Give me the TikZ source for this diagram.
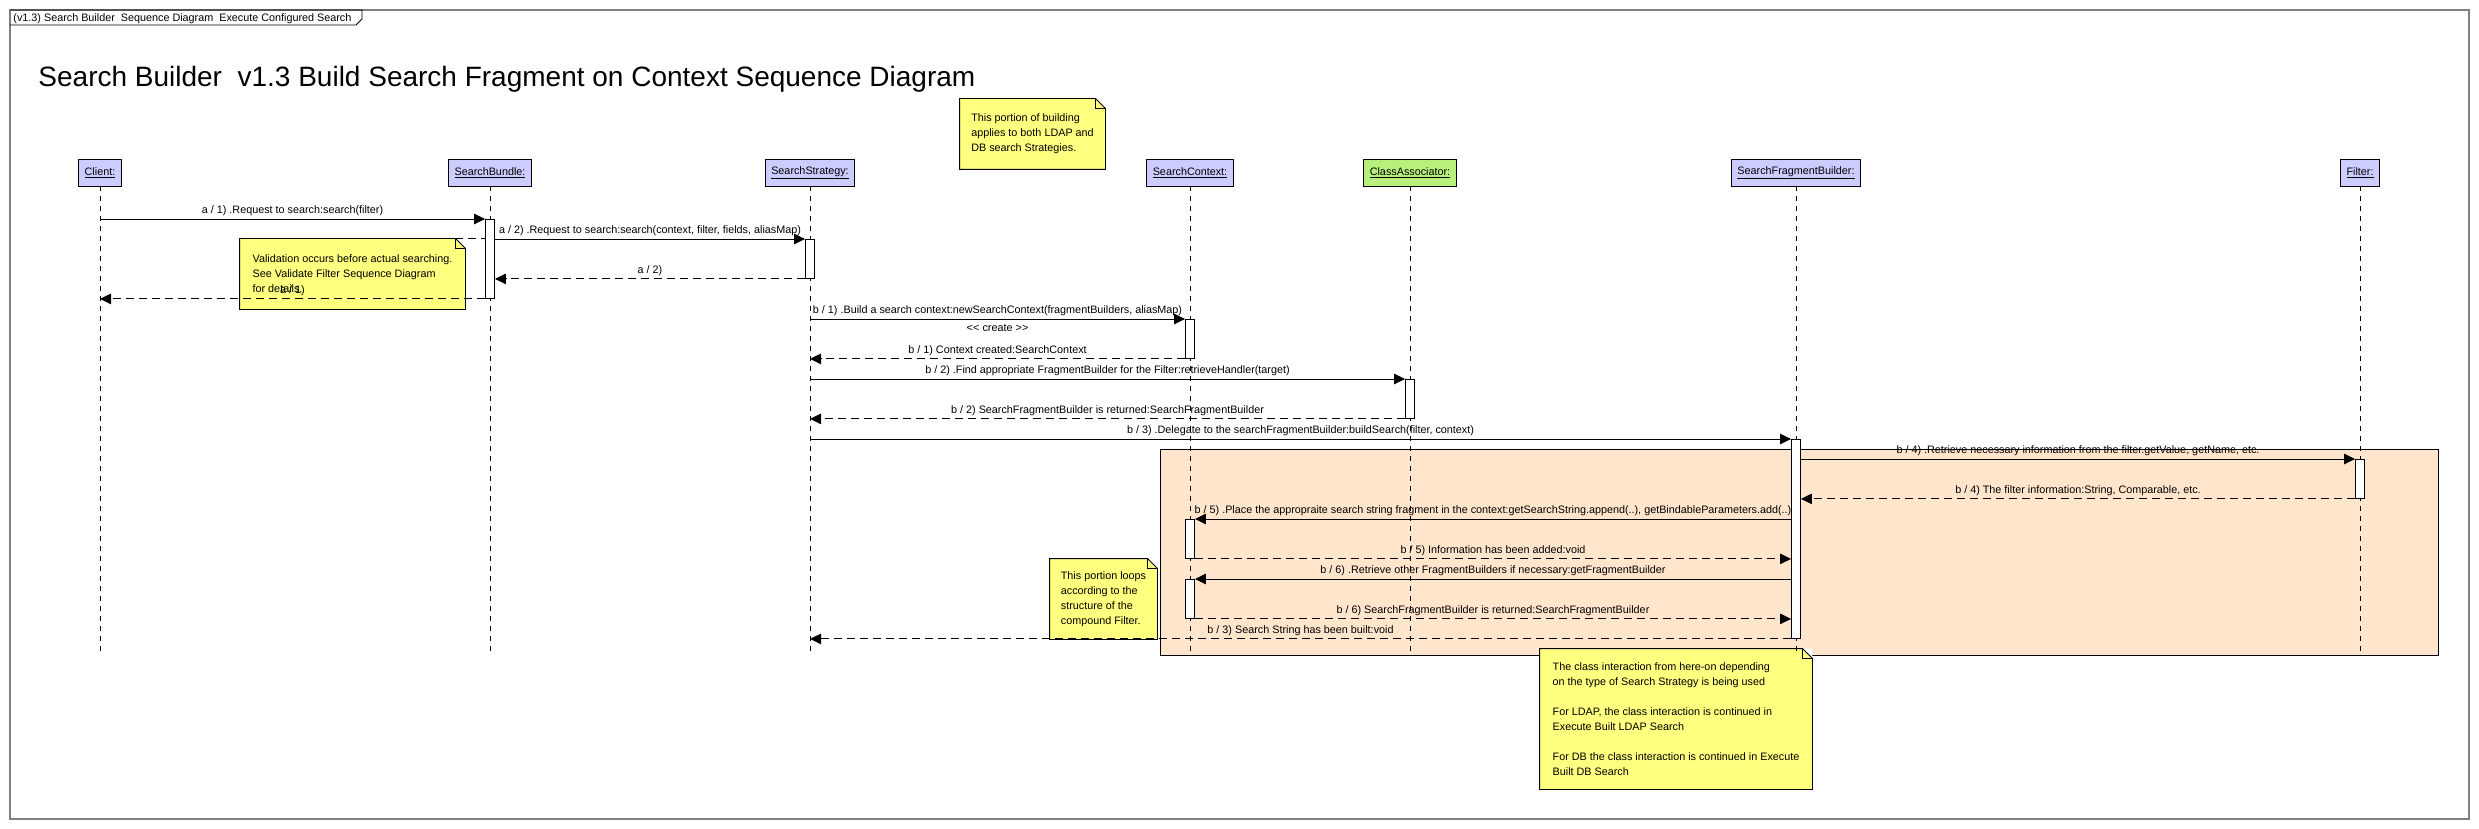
\documentclass[tikz,border=0pt]{standalone}
\usepackage{fontspec}
\setmainfont{Liberation Sans}
\usepackage{tikz}
\usetikzlibrary{arrows.meta}
\definecolor{objblue}{HTML}{CCCCFF}
\definecolor{objgreen}{HTML}{B8F07C}
\definecolor{noteyellow}{HTML}{FFFF80}
\definecolor{looppeach}{HTML}{FFE5CC}
\definecolor{framegray}{HTML}{808080}
\newcommand{\lblfont}{\fontsize{10.8}{15}\selectfont}
\newcommand{\foldnote}[1]{%
  \fill[white] ([xshift=-10pt]#1.north east) -- (#1.north east) -- ([yshift=-10pt]#1.north east) -- cycle;
  \draw ([xshift=-10pt]#1.north east) -- (#1.north west) -- (#1.south west) -- (#1.south east) -- ([yshift=-10pt]#1.north east) -- cycle;
  \draw ([xshift=-10pt]#1.north east) |- ([yshift=-10pt]#1.north east);}

\begin{document}
\begin{tikzpicture}[x=1pt, y=-1pt, line width=0.9pt,
  obj/.style={draw, fill=objblue, minimum height=27pt, inner xsep=6pt, inner ysep=0pt, font=\lblfont},
  act/.style={draw, fill=white, minimum width=9pt, inner sep=0pt, anchor=north},
  life/.style={dash pattern=on 5pt off 5pt},
  msg/.style={-{Triangle[length=11pt,width=10.5pt]}},
  ret/.style={msg, dash pattern=on 8pt off 5pt},
  lbl/.style={midway, above=1.5pt, inner sep=1pt, text depth=2.5pt, font=\lblfont},
  note/.style={fill=noteyellow, inner sep=0pt, align=left, font=\lblfont}]

\useasboundingbox (0,0) rectangle (2479,829);
\fill[white] (0,0) rectangle (2479,829);

% frame
\draw[framegray, line width=1.5pt] (10,10) rectangle (2469,819);
\draw[line width=0.8pt] (10,10) -- (362,10) -- (362,19) -- (356,25) -- (10,25);
\node[anchor=base west, inner sep=0pt, font=\lblfont] (frametab) at (13,22) {(v1.3) Search Builder\ \ Sequence Diagram\ \ Execute Configured Search};
\node[anchor=base west, inner sep=0pt, font=\fontsize{28}{32}\selectfont] (title) at (38,87) {Search Builder\ \ v1.3 Build Search Fragment on Context Sequence Diagram};

% loop region
\filldraw[fill=looppeach] (1160,449) rectangle (2438,655);

% notes
\node[note, minimum width=225pt, minimum height=70pt] (valnote) at (352.5,274) {Validation occurs before actual searching.\\See Validate Filter Sequence Diagram\\for details.};
\foldnote{valnote}
\node[note, minimum width=145pt, minimum height=70pt] (topnote) at (1032.5,134) {This portion of building\\applies to both LDAP and\\DB search Strategies.};
\foldnote{topnote}
\node[note, minimum width=107pt, minimum height=80pt] (loopnote) at (1103.5,599) {This portion loops\\according to the\\structure of the\\compound Filter.};
\foldnote{loopnote}
\node[note, minimum width=272pt, minimum height=140pt] (endnote) at (1676,719) {The class interaction from here-on depending\\on the type of Search Strategy is being used\\\mbox{}\\For LDAP, the class interaction is continued in\\Execute Built LDAP Search\\\mbox{}\\For DB the class interaction is continued in Execute\\Built DB Search};
\foldnote{endnote}

% objects
\node[obj] (client) at (100,172.5) {\underline{Client:}};
\node[obj] (bundle) at (490,172.5) {\underline{SearchBundle:}};
\node[obj] (strategy) at (810,172.5) {\underline{SearchStrategy:}};
\node[obj] (context) at (1190,172.5) {\underline{SearchContext:}};
\node[obj, fill=objgreen] (assoc) at (1410,172.5) {\underline{ClassAssociator:}};
\node[obj] (sfb) at (1796,172.5) {\underline{SearchFragmentBuilder:}};
\node[obj] (filter) at (2360,172.5) {\underline{Filter:}};

\coordinate (lifeend) at (0,653);
\foreach \o in {client,bundle,strategy,context,assoc,sfb,filter}
  \draw[life] (\o.south) -- (\o |- lifeend);

% activations
\node[act, minimum height=79pt] (actB) at (490,219) {};
\node[act, minimum height=39pt] (actS) at (810,239) {};
\node[act, minimum height=39pt] (actC1) at (1190,319) {};
\node[act, minimum height=39pt] (actA) at (1410,379) {};
\node[act, minimum height=199pt] (actF) at (1796,439) {};
\node[act, minimum height=39pt] (actL) at (2360,459) {};
\node[act, minimum height=39pt] (actC2) at (1190,519) {};
\node[act, minimum height=39pt] (actC3) at (1190,579) {};

% messages
\draw[msg] (client |- actB.north) -- (actB.north west) node[lbl] {a / 1) .Request to search:search(filter)};
\draw[dash pattern=on 8pt off 5pt] ([xshift=-10pt]valnote.north east) -- (actB.west |- valnote.north);
\draw[msg] (actB.east |- actS.north) -- (actS.north west) node[lbl] {a / 2) .Request to search:search(context, filter, fields, aliasMap)};
\draw[ret] (actS.south west) -- (actB.east |- actS.south) node[lbl] {a / 2)};
\draw[ret] (actB.south west) -- (client |- actB.south) node[lbl] {a / 1)};

\draw[msg] (strategy |- actC1.north) -- (actC1.north west) node[lbl] {b / 1) .Build a search context:newSearchContext(fragmentBuilders, aliasMap)}
  node[midway, yshift=-12pt, anchor=base, font=\lblfont] {\textless\kern0.3pt\textless{} create \textgreater\kern0.3pt\textgreater};
\draw[ret] (actC1.south west) -- (strategy |- actC1.south) node[lbl] {b / 1) Context created:SearchContext};
\draw[msg] (strategy |- actA.north) -- (actA.north west) node[lbl] {b / 2) .Find appropriate FragmentBuilder for the Filter:retrieveHandler(target)};
\draw[ret] (actA.south west) -- (strategy |- actA.south) node[lbl] {b / 2) SearchFragmentBuilder is returned:SearchFragmentBuilder};
\draw[msg] (strategy |- actF.north) -- (actF.north west) node[lbl] {b / 3) .Delegate to the searchFragmentBuilder:buildSearch(filter, context)};

\draw[msg] (actF.east |- actL.north) -- (actL.north west) node[lbl] {b / 4) .Retrieve necessary information from the filter.getValue, getName, etc.};
\draw[ret] (actL.south west) -- (actF.east |- actL.south) node[lbl] {b / 4) The filter information:String, Comparable, etc.};
\draw[msg] (actF.west |- actC2.north) -- (actC2.north east) node[lbl] {b / 5) .Place the appropraite search string fragment in the context:getSearchString.append(..), getBindableParameters.add(..)};
\draw[ret] (actC2.south east) -- (actF.west |- actC2.south) node[lbl] {b / 5) Information has been added:void};
\draw[msg] (actF.west |- actC3.north) -- (actC3.north east) node[lbl] {b / 6) .Retrieve other FragmentBuilders if necessary:getFragmentBuilder};
\draw[ret] (actC3.south east) -- (actF.west |- actC3.south) node[lbl] {b / 6) SearchFragmentBuilder is returned:SearchFragmentBuilder};
\draw[ret] (actF.south west) -- (strategy |- actF.south) node[lbl] {b / 3) Search String has been built:void};

\end{tikzpicture}
\end{document}
